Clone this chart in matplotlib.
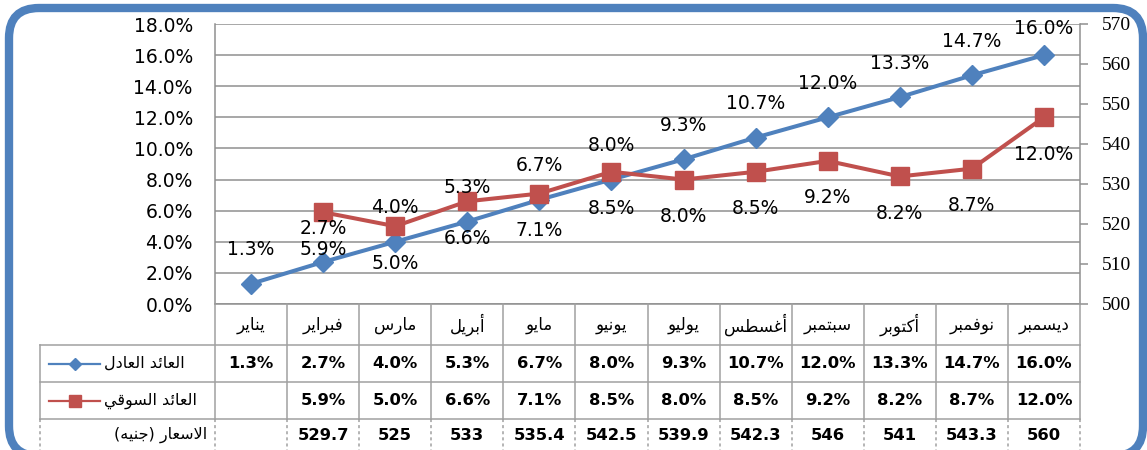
import numpy as np
import matplotlib
matplotlib.use("Agg")
import matplotlib.pyplot as plt
from matplotlib.transforms import blended_transform_factory, IdentityTransform
from matplotlib.patches import FancyBboxPatch
from matplotlib.lines import Line2D

# ---------------- data ----------------
months = ['يناير', 'فبراير', 'مارس', 'أبريل', 'مايو', 'يونيو',
          'يوليو', 'أغسطس', 'سبتمبر', 'أكتوبر', 'نوفمبر', 'ديسمبر']
fair_return = [1.3, 2.7, 4.0, 5.3, 6.7, 8.0, 9.3, 10.7, 12.0, 13.3, 14.7, 16.0]
market_return = [np.nan, 5.9, 5.0, 6.6, 7.1, 8.5, 8.0, 8.5, 9.2, 8.2, 8.7, 12.0]
prices = ['', '529.7', '525', '533', '535.4', '542.5', '539.9', '542.3',
          '546', '541', '543.3', '560']
series_names = ['العائد العادل', 'العائد السوقي', 'الاسعار (جنيه)']
left_ticks = [0, 2, 4, 6, 8, 10, 12, 14, 16, 18]
right_ticks = [500, 510, 520, 530, 540, 550, 560, 570]

BLUE = '#4F81BD'
RED = '#C0504D'
GRID = '#8f8f8f'
TBL = '#a0a0a0'

# ---------------- minimal Arabic shaping (presentation forms + RTL) ----------------
_DUAL = {0x0626: 0xFE89, 0x0628: 0xFE8F, 0x062A: 0xFE95, 0x062B: 0xFE99, 0x062C: 0xFE9D,
         0x062D: 0xFEA1, 0x062E: 0xFEA5, 0x0633: 0xFEB1, 0x0634: 0xFEB5, 0x0635: 0xFEB9,
         0x0636: 0xFEBD, 0x0637: 0xFEC1, 0x0638: 0xFEC5, 0x0639: 0xFEC9, 0x063A: 0xFECD,
         0x0641: 0xFED1, 0x0642: 0xFED5, 0x0643: 0xFED9, 0x0644: 0xFEDD, 0x0645: 0xFEE1,
         0x0646: 0xFEE5, 0x0647: 0xFEE9, 0x064A: 0xFEF1}
_RIGHT = {0x0622: 0xFE81, 0x0623: 0xFE83, 0x0624: 0xFE85, 0x0625: 0xFE87, 0x0627: 0xFE8D,
          0x0629: 0xFE93, 0x062F: 0xFEA9, 0x0630: 0xFEAB, 0x0631: 0xFEAD, 0x0632: 0xFEAF,
          0x0648: 0xFEED, 0x0649: 0xFEEF}
_LAMALEF = {0x0622: 0xFEF5, 0x0623: 0xFEF7, 0x0625: 0xFEF9, 0x0627: 0xFEFB}


def shape(s):
    units = []
    i = 0
    while i < len(s):
        c = ord(s[i])
        if c == 0x0644 and i + 1 < len(s) and ord(s[i + 1]) in _LAMALEF:
            units.append(('R', _LAMALEF[ord(s[i + 1])]))
            i += 2
            continue
        if c in _DUAL:
            units.append(('D', _DUAL[c]))
        elif c in _RIGHT:
            units.append(('R', _RIGHT[c]))
        else:
            units.append(('N', s[i]))
        i += 1
    out = []
    for k, (t, v) in enumerate(units):
        if t == 'N':
            out.append(v)
            continue
        pj = k > 0 and units[k - 1][0] == 'D'
        nj = t == 'D' and k + 1 < len(units) and units[k + 1][0] in ('D', 'R')
        if t == 'D':
            off = 3 if (pj and nj) else 1 if pj else 2 if nj else 0
        else:
            off = 1 if pj else 0
        out.append(chr(v + off))
    vis = ''.join(reversed(out))
    return vis.translate(str.maketrans('()', ')('))


# ---------------- figure ----------------
W, H = 1147, 450
fig = plt.figure(figsize=(W / 100, H / 100), dpi=100)
fig.patch.set_facecolor('white')


def fx(px):
    return px / W


def fy(py):
    return 1 - py / H


PL, PR, PT, PB = 215, 1080, 24, 304
ax = fig.add_axes([fx(PL), fy(PB), fx(PR) - fx(PL), fy(PT) - fy(PB)])
x = np.arange(len(months))
ax.set_xlim(-0.5, len(months) - 0.5)
ax.set_ylim(left_ticks[0], left_ticks[-1])
ax.set_yticks(left_ticks)
ax.set_yticklabels([f'{v:.1f}%' for v in left_ticks], fontsize=13.5, color='black')
ax.tick_params(axis='y', length=0, pad=16)
ax.set_xticks([])
ax.yaxis.grid(True, color=GRID, lw=1.1)
ax.set_axisbelow(True)
for sp in ['top']:
    ax.spines[sp].set_visible(False)
for sp in ['left', 'right', 'bottom']:
    ax.spines[sp].set_color(GRID)
    ax.spines[sp].set_linewidth(1.1)

ax2 = ax.twinx()
ax2.set_ylim(right_ticks[0], right_ticks[-1])
ax2.set_yticks(right_ticks)
ax2.set_yticklabels([str(v) for v in right_ticks], fontsize=14,
                    fontfamily='Liberation Serif', color='black')
ax2.tick_params(axis='y', length=6, width=1.1, color=GRID, pad=10)
for sp in ax2.spines.values():
    sp.set_visible(False)

ax.plot(x, fair_return, color=BLUE, lw=2.9, marker='D', ms=10, mec=BLUE, mfc=BLUE,
        zorder=3, clip_on=False)
ax.plot(x, market_return, color=RED, lw=2.9, marker='s', ms=13, mec=RED, mfc=RED,
        zorder=4, clip_on=False)

# data labels
for i, v in enumerate(fair_return):
    px_y = H - ax.transData.transform((i, v))[1]
    off = min(34, px_y - 29)
    ax.annotate(f'{v:.1f}%', (i, v), xytext=(0, off * 0.72), textcoords='offset points',
                ha='center', va='center', fontsize=13.5, color='black', zorder=6,
                annotation_clip=False)
for i, v in enumerate(market_return):
    if np.isnan(v):
        continue
    ax.annotate(f'{v:.1f}%', (i, v), xytext=(0, -37 * 0.72), textcoords='offset points',
                ha='center', va='center', fontsize=13.5, color='black', zorder=6,
                annotation_clip=False)

# ---------------- data table ----------------
tr = blended_transform_factory(ax.transData, fig.transFigure)
col_w = (PR - PL) / len(months)
xl = -0.5 - (PL - 40) / col_w
rows = [304, 345, 382, 419, 470]
bounds = np.arange(len(months) + 1) - 0.5


def vline(xd, y0, y1, dashed=False):
    fig.add_artist(Line2D([xd, xd], [fy(y0), fy(y1)], transform=tr, color=TBL, lw=1.1,
                          ls=(0, (2, 2)) if dashed else '-'))


def hline(x0, x1, yp):
    fig.add_artist(Line2D([x0, x1], [fy(yp), fy(yp)], transform=tr, color=TBL, lw=1.1))


for b in bounds:
    vline(b, rows[0], rows[3])
    vline(b, rows[3], rows[4], dashed=True)
vline(xl, rows[1], rows[3])
vline(xl, rows[3], rows[4], dashed=True)
for r in rows[1:4]:
    hline(xl, bounds[-1], r)

cy = [(rows[k] + rows[k + 1]) / 2 for k in range(3)]
cy.append(435)
for i, m in enumerate(months):
    fig.text(i, fy(cy[0]), shape(m), transform=tr, ha='center', va='center',
             fontsize=12, color='black', family='DejaVu Sans')
for i, v in enumerate(fair_return):
    fig.text(i, fy(cy[1]), f'{v:.1f}%', transform=tr, ha='center', va='center',
             fontsize=11.8, fontweight='bold', color='black')
for i, v in enumerate(market_return):
    if np.isnan(v):
        continue
    fig.text(i, fy(cy[2]), f'{v:.1f}%', transform=tr, ha='center', va='center',
             fontsize=11.8, fontweight='bold', color='black')
for i, p in enumerate(prices):
    if p:
        fig.text(i, fy(cy[3]), p, transform=tr, ha='center', va='center',
                 fontsize=11.8, fontweight='bold', color='black')

# legend keys inside the table
key_x = [fx(49), fx(75), fx(100)]
fig.add_artist(Line2D(key_x, [fy(cy[1])] * 3, transform=fig.transFigure, color=BLUE, lw=1.6,
                      marker='D', ms=6.5, markevery=[1], mfc=BLUE, mec=BLUE))
fig.add_artist(Line2D(key_x, [fy(cy[2])] * 3, transform=fig.transFigure, color=RED, lw=1.6,
                      marker='s', ms=8, markevery=[1], mfc=RED, mec=RED))
fig.text(fx(104), fy(cy[1]), shape(series_names[0]), ha='left', va='center', fontsize=11.5,
         color='black')
fig.text(fx(104), fy(cy[2]), shape(series_names[1]), ha='left', va='center', fontsize=11.5,
         color='black')
fig.text(fx(207), fy(cy[3]), shape(series_names[2]), ha='right', va='center', fontsize=11.5,
         color='black')

# rounded chart border
border = FancyBboxPatch((9, -6), 1134, 448, boxstyle='round,pad=0,rounding_size=30',
                        transform=IdentityTransform(), fill=False, ec=BLUE, lw=6)
fig.add_artist(border)

fig.savefig('out.png', dpi=100, facecolor='white')
